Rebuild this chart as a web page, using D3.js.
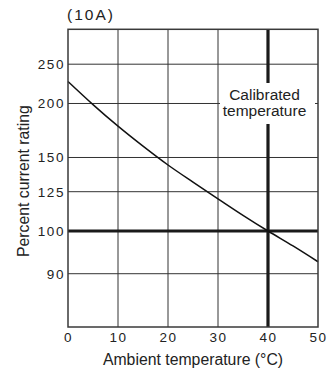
<!DOCTYPE html>
<html><head><meta charset="utf-8">
<script src="https://cdn.jsdelivr.net/npm/d3@7"></script>
<style>
body{margin:0;background:#fff}
svg{display:block}
text{font-family:"Liberation Sans",Arial,Helvetica,sans-serif;fill:#222}
</style>
</head><body>
<svg id="c" width="329" height="370"></svg>
<script>
// ---- data ----
const temps   = [0, 5, 10, 15, 20, 25, 30, 35, 40, 45, 50];
const rating  = [228, 199, 179, 160.5, 144.5, 132, 120.5, 110, 100, 96.5, 92.8];
const xTicks  = [0, 10, 20, 30, 40, 50];
const yTicks  = [90, 100, 125, 150, 200, 250];
const calibratedTemp = 40;
const ratedPercent   = 100;
const titleText  = "(10A)";
const xTitleText = "Ambient temperature (°C)";
const yTitleText = "Percent current rating";
const calibLabel = ["Calibrated", "temperature"];

// ---- layout ----
const W = 329, H = 370;
const m = {l: 68, t: 29.3, r: 11, b: 43};
const w = W - m.l - m.r, h = H - m.t - m.b;
// relative positions of the chart's non-uniform rating axis
const yFrac = [0.821, 0.6775, 0.5455, 0.4306, 0.2492, 0.1172];

const svg = d3.select("#c");
const g = svg.append("g").attr("transform", `translate(${m.l},${m.t})`);

const x = d3.scaleLinear().domain([0, 50]).range([0, w]);
const y = d3.scaleLinear().domain(yTicks).range(yFrac.map(f => f * h));

// grid
g.append("g").selectAll("line")
  .data(xTicks.filter(t => t !== 0 && t !== 50 && t !== calibratedTemp))
  .join("line")
  .attr("x1", d => x(d)).attr("x2", d => x(d))
  .attr("y1", 0).attr("y2", h)
  .attr("stroke", "#333").attr("stroke-width", 1);
g.append("g").selectAll("line")
  .data(yTicks.filter(t => t !== ratedPercent))
  .join("line")
  .attr("x1", 0).attr("x2", w)
  .attr("y1", d => y(d)).attr("y2", d => y(d))
  .attr("stroke", "#333").attr("stroke-width", 1);

// thick reference lines
g.append("line")
  .attr("x1", 0).attr("x2", w)
  .attr("y1", y(ratedPercent)).attr("y2", y(ratedPercent))
  .attr("stroke", "#1a1a1a").attr("stroke-width", 3.2);
g.append("line")
  .attr("x1", x(calibratedTemp)).attr("x2", x(calibratedTemp))
  .attr("y1", 0).attr("y2", h)
  .attr("stroke", "#1a1a1a").attr("stroke-width", 3.2);

// calibrated label with white box
const cy = y(200);
g.append("rect")
  .attr("x", x(30) + 2).attr("width", x(50) - x(30) - 5)
  .attr("y", cy - 20.5).attr("height", 41)
  .attr("fill", "#fff");
g.append("g").selectAll("text")
  .data(calibLabel)
  .join("text")
  .attr("x", x(calibratedTemp) - 3.5)
  .attr("y", (d, i) => cy - 3.5 + i * 16.5)
  .attr("text-anchor", "middle")
  .style("font-size", "15.5px")
  .text(d => d);

// curve
const pts = temps.map((t, i) => [t, rating[i]]);
g.append("path")
  .datum(pts)
  .attr("fill", "none")
  .attr("stroke", "#111")
  .attr("stroke-width", 1.5)
  .attr("d", d3.line().x(d => x(d[0])).y(d => y(d[1])).curve(d3.curveMonotoneX));

// frame
g.append("rect")
  .attr("x", 0).attr("y", 0).attr("width", w).attr("height", h)
  .attr("fill", "none").attr("stroke", "#3a3a3a").attr("stroke-width", 1.5);

// axes
const tickStyle = sel => sel.attr("fill", "#222")
  .style("font-family", '"Liberation Sans",Arial,sans-serif')
  .style("font-size", "13.5px").style("letter-spacing", "1.6px");

const xa = g.append("g").attr("transform", `translate(0,${h})`)
  .call(d3.axisBottom(x).tickValues(xTicks).tickSize(0).tickPadding(5).tickFormat(d3.format("d")));
xa.select(".domain").remove();
xa.selectAll("text").call(tickStyle);

const ya = g.append("g")
  .call(d3.axisLeft(y).tickValues(yTicks).tickSize(0).tickPadding(3).tickFormat(d3.format("d")));
ya.select(".domain").remove();
ya.selectAll("text").call(tickStyle);

// titles
svg.append("text")
  .attr("x", m.l - 1).attr("y", 20)
  .style("font-size", "15.5px").style("letter-spacing", "2px")
  .text(titleText);
svg.append("text")
  .attr("x", m.l + w / 2).attr("y", 365)
  .attr("text-anchor", "middle")
  .style("font-size", "15.8px")
  .text(xTitleText);
svg.append("text")
  .attr("transform", `translate(29,${m.t + h * 0.51}) rotate(-90)`)
  .attr("text-anchor", "middle")
  .style("font-size", "15.8px")
  .text(yTitleText);
</script>
</body></html>
